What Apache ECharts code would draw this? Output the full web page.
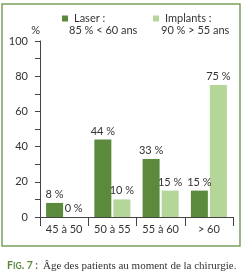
<!DOCTYPE html>
<html><head><meta charset="utf-8">
<script src="https://cdn.jsdelivr.net/npm/echarts@6/dist/echarts.min.js"></script>
<style>html,body{margin:0;padding:0;background:#fff}#c{width:244px;height:273px}</style>
</head><body><div id="c"></div>
<script>
const categories = ['45 à 50', '50 à 55', '55 à 60', '> 60'];
const laserValues = [8, 44, 33, 15];
const implantValues = [0, 10, 15, 75];
const seriesNames = ['Laser :', 'Implants :'];
const legendNotes = ['85 % < 60 ans', '90 % > 55 ans'];
const yTicks = [0, 20, 40, 60, 80, 100];
const captionLabel = 'F|IG|. 7 :';
const captionText = 'Âge des patients au moment de la chirurgie.';

const DARK = '#5b8a3d';
const LIGHT = '#b4d698';
const FONT = 'Lato';
const chart = echarts.init(document.getElementById('c'), null, {renderer: 'canvas'});
const cap = captionLabel.split('|');
const legendBase = {top: 8, itemWidth: 6, itemHeight: 6, icon: 'rect',
  textStyle: {fontFamily: FONT, fontSize: 11, color: '#333', padding: [0, 0, 0, 1]}};
chart.setOption({
  animation: false,
  color: [DARK, LIGHT],
  grid: {left: 40, right: 11, top: 41, bottom: 56},
  legend: [
    Object.assign({left: 57, data: [seriesNames[0]]}, legendBase),
    Object.assign({left: 148, data: [seriesNames[1]]}, legendBase)
  ],
  graphic: [
    {type: 'rect', shape: {x: 2, y: 4, width: 238, height: 242}, style: {fill: 'none', stroke: '#7aa05c', lineWidth: 1.5}, silent: true},
    {type: 'text', left: 69, top: 25, style: {text: legendNotes[0], font: '11px ' + FONT, fill: '#333'}},
    {type: 'text', left: 161, top: 25, style: {text: legendNotes[1], font: '11px ' + FONT, fill: '#333'}}
  ],
  title: {
    left: 2, top: 252,
    text: '{f|' + cap[0] + '}{g|' + cap[1] + '}{f|' + cap[2] + '} {b|' + captionText + '}',
    textStyle: {
      fontWeight: 'normal',
      rich: {
        f: {fontFamily: FONT, fontWeight: 'bold', fontSize: 10.5, color: '#5b8a3d'},
        g: {fontFamily: FONT, fontWeight: 'bold', fontSize: 8.5, color: '#5b8a3d'},
        b: {fontFamily: 'Liberation Serif', fontWeight: 'normal', fontSize: 11, color: '#333'}
      }
    }
  },
  xAxis: {
    type: 'category', data: categories,
    axisLine: {lineStyle: {color: '#444', width: 1}},
    axisTick: {show: true, length: 9, lineStyle: {color: '#444'}},
    axisLabel: {fontFamily: FONT, fontSize: 11, color: '#333', margin: 7}
  },
  yAxis: {
    type: 'value', min: 0, max: 100, interval: 10,
    name: '%', nameLocation: 'end', nameGap: 5,
    nameTextStyle: {fontFamily: FONT, fontSize: 11, color: '#333', align: 'right'},
    axisLine: {show: true, lineStyle: {color: '#444', width: 1}},
    axisTick: {show: true, length: 5, lineStyle: {color: '#444'}},
    splitLine: {show: false},
    axisLabel: {fontFamily: FONT, fontSize: 11, color: '#333', margin: 12,
      formatter: v => yTicks.indexOf(v) >= 0 ? String(v) : ''}
  },
  series: [
    {name: seriesNames[0], type: 'bar', data: laserValues, barWidth: 17, barGap: '12%',
     label: {show: true, position: 'top', distance: 3, formatter: '{c} %', fontFamily: FONT, fontSize: 11, color: '#333'}},
    {name: seriesNames[1], type: 'bar', data: implantValues, barWidth: 17,
     label: {show: true, position: 'top', distance: 3, formatter: '{c} %', fontFamily: FONT, fontSize: 11, color: '#333'}}
  ]
});
</script></body></html>
